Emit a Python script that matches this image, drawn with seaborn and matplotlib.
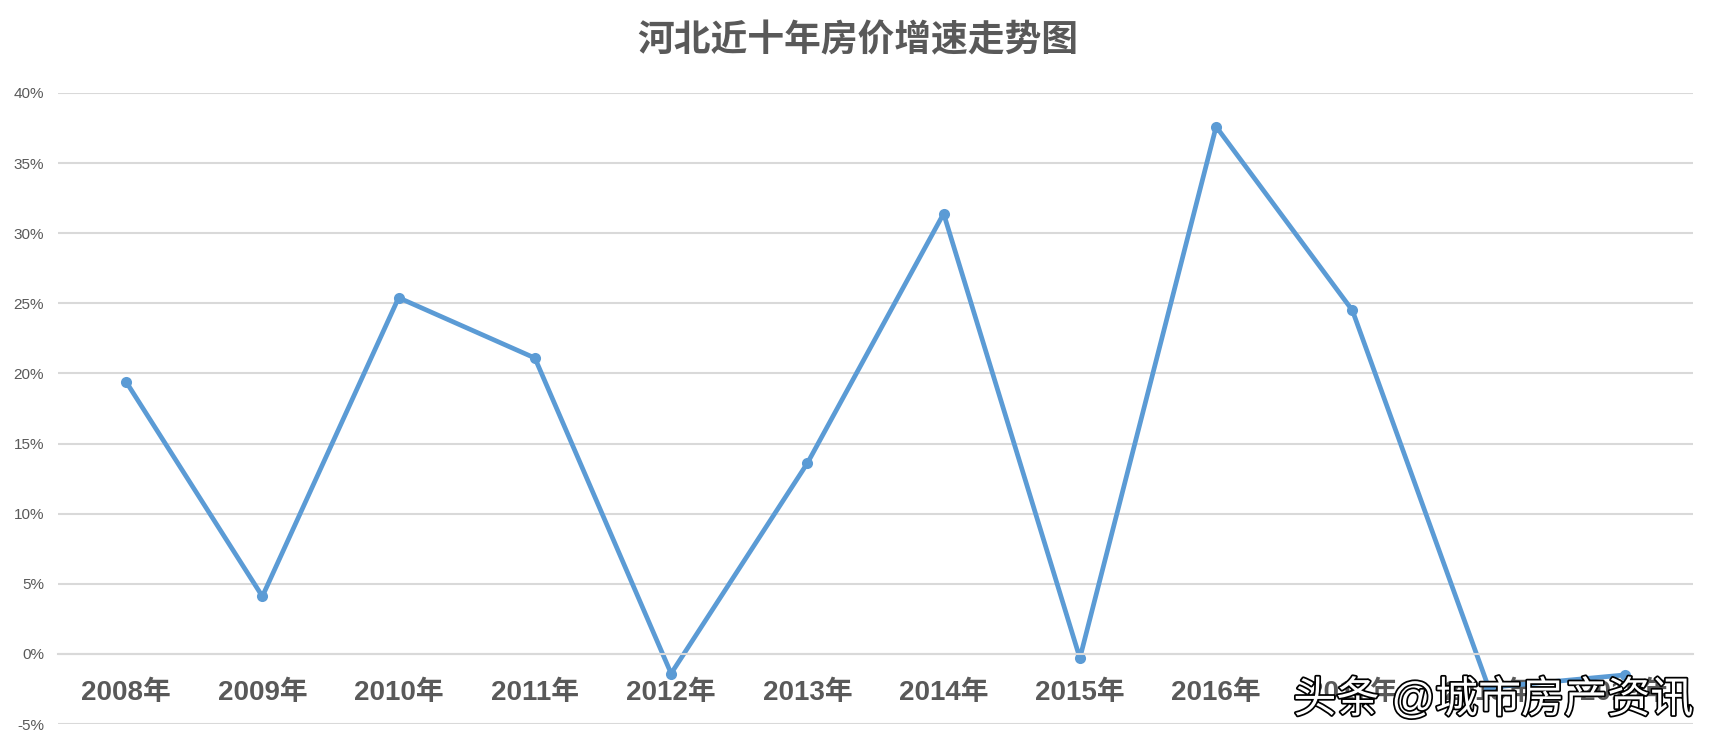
import matplotlib
matplotlib.use("Agg")
import matplotlib.pyplot as plt
import matplotlib.patheffects as pe
import pandas as pd
import seaborn as sns

# data
years = ["2008年", "2009年", "2010年", "2011年", "2012年", "2013年",
         "2014年", "2015年", "2016年", "2017年", "2018年", "2019年"]
growth = [19.4, 4.1, 25.4, 21.1, -1.4, 13.6, 31.4, -0.3, 37.6, 24.5, -2.4, -1.5]
y_ticks = [-5, 0, 5, 10, 15, 20, 25, 30, 35, 40]

title = "河北近十年房价增速走势图"
watermark = "头条 @城市房产资讯"

sns.set_theme(style="white")
plt.rcParams["font.family"] = ["Liberation Sans", "Noto Sans CJK SC", "DejaVu Sans"]

df = pd.DataFrame({"year": years, "growth": growth})
df["pos"] = range(len(df))

fig = plt.figure(figsize=(17.16, 7.48), dpi=100)
ax = fig.add_axes([58 / 1716, 1 - 724 / 748, (1693 - 58) / 1716, (724 - 93) / 748])

sns.lineplot(data=df, x="pos", y="growth", ax=ax, color="#5B9BD5",
             linewidth=3.4, marker="o", markersize=8, markeredgewidth=0)

# category axis crosses at 0 like the Excel original
ax.spines["bottom"].set_position(("data", 0))
ax.spines["bottom"].set_color("#D9D9D9")
ax.spines["bottom"].set_linewidth(1.5)
for s in ["top", "left", "right"]:
    ax.spines[s].set_visible(False)

ax.set_xlim(-0.5, len(years) - 0.5)
ax.set_ylim(-5, 40)
ax.set_yticks(y_ticks)
ax.set_yticklabels([f"{v}%" for v in y_ticks], color="#595959", fontsize=11)
ax.yaxis.grid(True, color="#D9D9D9", linewidth=1.5)
ax.set_axisbelow(True)

ax.set_xticks(df["pos"])
ax.set_xticklabels(years, color="#595959", fontsize=20, fontweight="bold")
ax.tick_params(axis="x", length=0, pad=19)
ax.tick_params(axis="y", length=0, pad=10)
ax.set_xlabel("")
ax.set_ylabel("")

fig.text(858 / 1716, 1 - 42 / 748, title, ha="center", va="center",
         fontsize=26.5, fontweight="bold", color="#595959")

fig.text(1693 / 1716, 1 - 700 / 748, watermark, ha="right", va="center",
         fontsize=31, color="white",
         path_effects=[pe.withStroke(linewidth=2.5, foreground="black")])

fig.savefig("out.png", dpi=100, facecolor="white")
